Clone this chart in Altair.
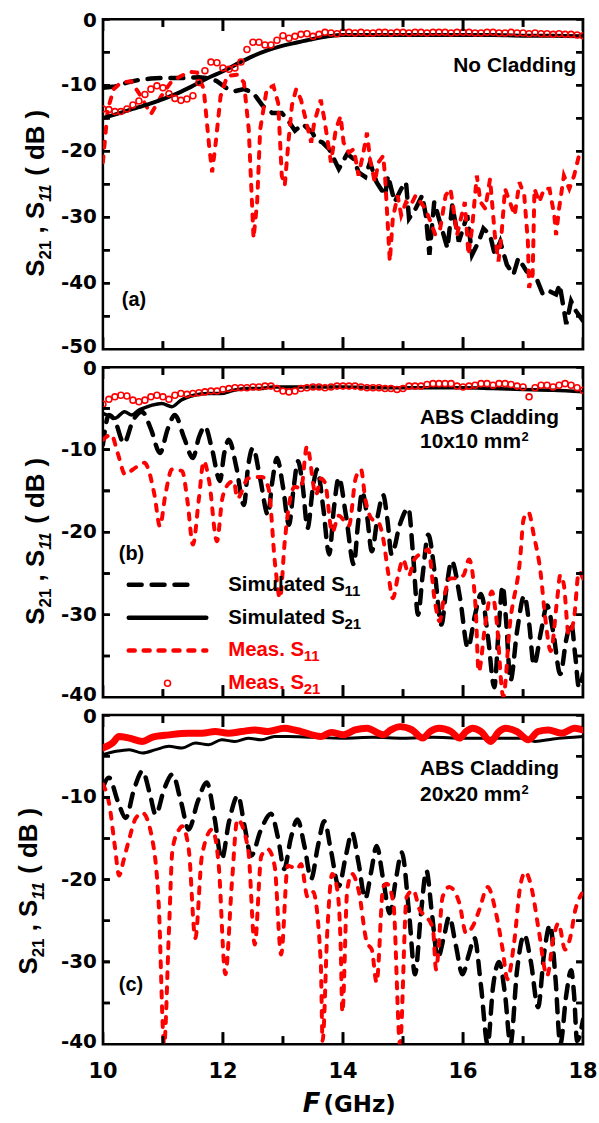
import altair as alt
import pandas as pd

# ---------------- values ----------------
# frequency grid of the circle markers (GHz)
GRID_F = [10.0, 10.1, 10.2, 10.3, 10.4, 10.5, 10.6, 10.7, 10.8, 10.9,
          11.0, 11.1, 11.2, 11.3, 11.4, 11.5, 11.6, 11.7, 11.8, 11.9,
          12.0, 12.1, 12.2, 12.3, 12.4, 12.5, 12.6, 12.7, 12.8, 12.9,
          13.0, 13.1, 13.2, 13.3, 13.4, 13.5, 13.6, 13.7, 13.8, 13.9,
          14.0, 14.1, 14.2, 14.3, 14.4, 14.5, 14.6, 14.7, 14.8, 14.9,
          15.0, 15.1, 15.2, 15.3, 15.4, 15.5, 15.6, 15.7, 15.8, 15.9,
          16.0, 16.1, 16.2, 16.3, 16.4, 16.5, 16.6, 16.7, 16.8, 16.9,
          17.0, 17.1, 17.2, 17.3, 17.4, 17.5, 17.6, 17.7, 17.8, 17.9, 18.0]

# ---- panel (a): no cladding ----
A_S11_SIM_F = [10.0, 10.2, 10.4, 10.6, 10.8, 11.0, 11.2, 11.4, 11.6, 11.8,
               11.9, 12.05, 12.2, 12.35, 12.5, 12.66, 12.82, 12.98, 13.09, 13.2,
               13.33, 13.49, 13.55, 13.66, 13.77, 13.93, 14.07, 14.18, 14.26, 14.37,
               14.45, 14.56, 14.7, 14.75, 14.86, 14.97, 15.05, 15.1, 15.21, 15.32,
               15.38, 15.44, 15.52, 15.63, 15.74, 15.82, 15.93, 16.07, 16.15, 16.26,
               16.34, 16.45, 16.53, 16.62, 16.73, 16.84, 16.92, 17.06, 17.22, 17.33,
               17.44, 17.55, 17.61, 17.72, 17.8, 17.88, 18.0]
A_S11_SIM_DB = [-10.4, -10.2, -9.6, -9.2, -9.0, -8.9, -8.9, -8.9, -8.8, -9.0,
                -9.4, -10.4, -10.9, -10.6, -11.1, -13.1, -14.2, -14.2, -15.4, -16.9,
                -15.9, -17.2, -18.2, -18.7, -19.7, -22.7, -20.4, -21.2, -23.2, -23.9,
                -21.7, -24.7, -26.7, -23.7, -27.7, -25.7, -24.7, -30.2, -28.7, -26.7,
                -29.7, -35.7, -27.7, -31.2, -34.7, -28.2, -33.7, -29.7, -35.7, -33.7,
                -31.7, -32.7, -35.7, -33.7, -37.2, -38.7, -36.2, -38.2, -39.2, -41.7,
                -41.2, -41.7, -40.2, -46.2, -42.7, -44.2, -45.7]
A_S21_SIM_F = [10.0, 10.25, 10.5, 10.75, 11.0, 11.25, 11.5, 11.75, 12.0, 12.25,
               12.5, 12.75, 13.0, 13.25, 13.5, 13.75, 14.0, 14.5, 15.0, 15.5,
               16.0, 16.5, 17.0, 17.5, 18.0]
A_S21_SIM_DB = [-15.0, -14.3, -13.6, -12.9, -12.1, -11.2, -10.1, -8.9, -7.9, -6.7,
                -5.6, -4.7, -4.0, -3.5, -3.0, -2.6, -2.4, -2.4, -2.4, -2.4,
                -2.4, -2.4, -2.5, -2.5, -2.6]
A_S11_MEAS_F = [10.0, 10.05, 10.08, 10.18, 10.3, 10.47, 10.6, 10.8, 10.97, 11.13,
                11.3, 11.46, 11.57, 11.68, 11.77, 11.82, 11.88, 11.96, 12.07, 12.24,
                12.35, 12.43, 12.51, 12.57, 12.62, 12.73, 12.84, 12.92, 12.98, 13.03,
                13.09, 13.15, 13.22, 13.3, 13.4, 13.47, 13.52, 13.63, 13.69, 13.8,
                13.88, 13.96, 14.01, 14.1, 14.18, 14.26, 14.35, 14.4, 14.45, 14.53,
                14.59, 14.67, 14.7, 14.78, 14.83, 14.91, 14.97, 15.05, 15.13, 15.21,
                15.29, 15.37, 15.46, 15.54, 15.62, 15.71, 15.79, 15.84, 15.9, 15.95,
                16.03, 16.09, 16.15, 16.23, 16.29, 16.37, 16.45, 16.53, 16.59, 16.64,
                16.7, 16.78, 16.86, 16.94, 17.02, 17.08, 17.1, 17.16, 17.19, 17.27,
                17.35, 17.44, 17.52, 17.55, 17.6, 17.68, 17.77, 17.85, 17.93, 18.0]
A_S11_MEAS_DB = [-21.7, -16.7, -13.7, -10.6, -9.6, -9.4, -11.2, -14.4, -11.7, -9.6,
                 -8.6, -8.0, -8.1, -10.6, -19.2, -23.2, -18.7, -11.7, -8.6, -8.4,
                 -9.6, -16.7, -33.2, -27.7, -16.7, -10.6, -10.1, -12.7, -23.7, -25.2,
                 -18.7, -13.0, -10.6, -12.2, -16.0, -18.7, -15.7, -12.2, -15.2, -21.7,
                 -16.7, -14.7, -18.7, -20.2, -19.7, -23.7, -19.7, -17.2, -21.2, -24.7,
                 -21.7, -20.7, -23.7, -36.7, -30.2, -26.7, -29.7, -27.7, -28.2, -26.7,
                 -27.7, -28.7, -30.7, -32.7, -31.7, -26.7, -25.7, -28.7, -32.7, -30.7,
                 -27.7, -35.7, -31.7, -23.7, -27.7, -28.7, -24.2, -32.7, -36.7, -32.7,
                 -25.7, -27.7, -29.7, -24.7, -26.7, -33.7, -40.7, -38.7, -25.7, -27.7,
                 -25.7, -25.7, -29.7, -32.7, -28.7, -23.7, -25.7, -23.7, -20.7, -20.7]
A_S21_MEAS_DB = [-13.6, -13.7, -14.0, -14.0, -13.6, -13.0, -12.4, -11.4, -10.6, -10.1,
                 -10.4, -11.3, -12.0, -12.3, -12.1, -11.6, -9.6, -7.8, -6.5, -6.6,
                 -7.4, -7.6, -7.4, -6.5, -4.6, -3.5, -3.5, -3.9, -3.9, -3.2,
                 -2.5, -2.9, -2.6, -2.3, -2.2, -2.6, -2.3, -2.0, -2.1, -2.2,
                 -2.0, -2.0, -2.1, -2.0, -2.1, -2.1, -2.0, -2.0, -2.1, -2.0,
                 -2.0, -2.1, -2.0, -2.0, -2.1, -2.0, -2.0, -2.0, -2.1, -2.0,
                 -2.0, -2.0, -2.1, -2.1, -2.0, -2.0, -2.1, -2.1, -2.0, -2.1,
                 -2.1, -2.2, -2.1, -2.2, -2.2, -2.3, -2.2, -2.3, -2.3, -2.4, -2.5]

# ---- panel (b): ABS cladding 10x10 mm2 ----
B_S11_SIM_F = [10.0, 10.1, 10.2, 10.35, 10.5, 10.65, 10.8, 10.95, 11.08, 11.2,
               11.35, 11.5, 11.6, 11.7, 11.82, 11.95, 12.02, 12.1, 12.22, 12.35,
               12.42, 12.5, 12.62, 12.75, 12.82, 12.9, 13.0, 13.1, 13.18, 13.25,
               13.33, 13.41, 13.5, 13.57, 13.67, 13.77, 13.85, 13.93, 14.05, 14.18,
               14.25, 14.32, 14.4, 14.48, 14.58, 14.67, 14.74, 14.81, 14.95, 15.09,
               15.17, 15.25, 15.33, 15.42, 15.53, 15.64, 15.72, 15.81, 15.95, 16.08,
               16.2, 16.3, 16.42, 16.52, 16.6, 16.66, 16.72, 16.79, 16.9, 17.02,
               17.1, 17.18, 17.3, 17.4, 17.5, 17.62, 17.72, 17.8, 17.87, 17.93, 18.0]
B_S11_SIM_DB = [-9.4, -5.8, -6.5, -9.2, -6.5, -5.4, -7.5, -10.4, -7.5, -5.8,
                -8.5, -11.0, -8.5, -7.2, -10.0, -13.8, -10.5, -8.8, -12.0, -16.7,
                -12.0, -9.8, -13.5, -17.9, -14.0, -11.0, -14.5, -19.1, -14.5, -11.4,
                -14.5, -19.5, -14.5, -12.4, -17.0, -22.7, -17.0, -13.4, -18.0, -23.9,
                -19.0, -15.1, -18.0, -22.3, -18.0, -15.5, -18.5, -22.7, -19.0, -17.1,
                -23.0, -30.0, -25.0, -20.3, -25.0, -31.2, -27.0, -23.5, -28.0, -34.0,
                -30.0, -27.5, -33.0, -38.8, -31.0, -26.5, -31.0, -38.0, -32.0, -27.7,
                -31.0, -36.1, -32.0, -28.9, -32.0, -37.2, -33.0, -31.0, -35.0, -38.8, -37.2]
B_S21_SIM_F = [10.0, 10.1, 10.2, 10.36, 10.48, 10.6, 10.7, 10.82, 10.98, 11.15,
               11.3, 11.52, 11.74, 11.96, 12.18, 12.4, 12.62, 12.84, 13.06, 13.5,
               14.0, 14.5, 15.0, 15.5, 16.0, 16.5, 17.0, 17.5, 18.0]
B_S21_SIM_DB = [-5.6, -5.9, -6.2, -5.4, -5.8, -5.2, -4.9, -4.6, -4.4, -4.8,
                -4.0, -3.4, -3.2, -3.2, -2.8, -2.6, -2.6, -2.4, -2.4, -2.4,
                -2.4, -2.5, -2.5, -2.5, -2.5, -2.6, -2.7, -2.8, -3.0]
B_S11_MEAS_F = [10.0, 10.14, 10.25, 10.37, 10.5, 10.69, 10.86, 10.95, 11.04, 11.15,
                11.32, 11.41, 11.5, 11.6, 11.68, 11.77, 11.9, 11.99, 12.1, 12.18,
                12.24, 12.42, 12.65, 12.76, 12.87, 12.95, 13.03, 13.12, 13.2, 13.3,
                13.4, 13.55, 13.63, 13.7, 13.82, 13.93, 14.1, 14.21, 14.3, 14.37,
                14.48, 14.59, 14.67, 14.75, 14.83, 14.92, 15.0, 15.1, 15.19, 15.33,
                15.42, 15.53, 15.61, 15.68, 15.79, 15.9, 16.01, 16.1, 16.21, 16.26,
                16.37, 16.48, 16.56, 16.67, 16.78, 16.95, 17.01, 17.09, 17.18, 17.29,
                17.37, 17.46, 17.57, 17.62, 17.68, 17.76, 17.85, 17.93, 18.0]
B_S11_MEAS_DB = [-8.8, -8.2, -10.5, -13.0, -12.4, -11.6, -15.5, -19.3, -15.5, -12.4,
                 -12.6, -16.3, -21.5, -15.9, -11.4, -13.8, -21.1, -15.9, -14.1, -13.8,
                 -15.9, -13.5, -13.3, -14.7, -24.0, -28.0, -21.1, -15.9, -14.5, -14.7,
                 -9.6, -15.5, -13.5, -14.0, -20.0, -18.0, -19.2, -13.5, -12.4, -15.9,
                 -18.4, -18.8, -20.8, -24.8, -28.0, -25.2, -23.3, -25.2, -23.3, -22.5,
                 -22.1, -28.4, -30.8, -28.0, -25.6, -25.6, -25.2, -23.3, -29.2, -36.9,
                 -31.2, -27.2, -30.8, -39.9, -31.2, -23.3, -18.4, -17.6, -20.4, -24.8,
                 -30.4, -34.4, -28.0, -25.2, -26.4, -32.4, -30.4, -24.8, -25.6]
B_S21_MEAS_DB = [-4.5, -3.9, -3.6, -3.4, -3.5, -4.0, -4.2, -4.0, -3.6, -3.4,
                 -3.6, -3.9, -3.4, -3.2, -3.3, -3.2, -3.1, -3.0, -2.9, -2.9,
                 -2.7, -2.6, -2.5, -2.5, -2.5, -2.4, -2.4, -2.3, -2.3, -2.6,
                 -2.9, -3.0, -2.9, -2.6, -2.5, -2.4, -2.4, -2.5, -2.4, -2.3,
                 -2.3, -2.3, -2.3, -2.4, -2.5, -2.5, -2.5, -2.6, -2.6, -2.7,
                 -2.6, -2.3, -2.3, -2.3, -2.1, -2.0, -2.0, -2.0, -2.0, -2.3,
                 -2.4, -2.3, -2.2, -2.0, -2.0, -2.2, -2.0, -2.0, -2.1, -2.3,
                 -2.4, -3.6, -2.5, -2.2, -2.2, -2.4, -2.2, -2.0, -2.2, -2.5, -2.8]

# ---- panel (c): ABS cladding 20x20 mm2 ----
C_S11_SIM_F = [10.0, 10.1, 10.25, 10.38, 10.52, 10.66, 10.78, 10.88, 11.02, 11.16,
               11.3, 11.43, 11.58, 11.73, 11.86, 11.98, 12.1, 12.25, 12.36, 12.47,
               12.63, 12.8, 12.92, 13.02, 13.13, 13.24, 13.36, 13.47, 13.58, 13.69,
               13.8, 13.93, 14.05, 14.15, 14.26, 14.37, 14.47, 14.56, 14.67, 14.78,
               14.88, 14.98, 15.1, 15.2, 15.3, 15.39, 15.48, 15.58, 15.68, 15.77,
               15.88, 15.99, 16.1, 16.19, 16.3, 16.41, 16.5, 16.6, 16.7, 16.79,
               16.9, 17.02, 17.13, 17.25, 17.35, 17.45, 17.54, 17.62, 17.72, 17.8,
               17.85, 17.9, 18.0]
C_S11_SIM_DB = [-8.8, -7.6, -10.5, -12.5, -9.0, -6.8, -9.5, -12.1, -9.0, -7.2,
                -10.5, -13.9, -10.5, -8.2, -12.5, -17.5, -13.0, -9.8, -13.5, -17.1,
                -14.0, -12.0, -15.0, -18.7, -15.0, -12.7, -16.0, -19.9, -16.0, -12.9,
                -16.5, -20.8, -17.0, -14.3, -18.0, -22.3, -19.0, -15.9, -20.0, -24.1,
                -20.0, -16.7, -24.0, -31.5, -24.0, -18.9, -24.0, -29.5, -27.0, -24.5,
                -28.0, -31.5, -29.0, -27.1, -33.0, -40.0, -33.0, -30.0, -34.0, -40.0,
                -31.0, -26.7, -30.0, -35.5, -29.0, -25.5, -32.0, -40.0, -34.0, -31.0,
                -34.0, -39.6, -37.0]
C_S21_SIM_F = [10.0, 10.22, 10.44, 10.66, 10.88, 11.1, 11.32, 11.54, 11.76, 11.98,
               12.2, 12.42, 12.64, 12.86, 13.08, 13.5, 14.0, 14.5, 15.0, 15.5,
               16.0, 16.5, 17.0, 17.2, 17.5, 18.0]
C_S21_SIM_DB = [-4.8, -4.4, -4.2, -4.6, -4.2, -3.8, -4.0, -3.4, -3.6, -3.0,
                -3.2, -2.8, -3.0, -2.6, -2.6, -2.7, -2.8, -2.7, -2.8, -2.7,
                -2.8, -2.8, -2.8, -3.2, -2.9, -2.6]
C_S11_MEAS_F = [10.0, 10.11, 10.2, 10.27, 10.35, 10.44, 10.55, 10.66, 10.82, 10.93,
                11.02, 11.1, 11.16, 11.27, 11.32, 11.43, 11.54, 11.65, 11.82, 11.93,
                12.04, 12.15, 12.24, 12.42, 12.53, 12.64, 12.75, 12.86, 12.97, 13.08,
                13.24, 13.3, 13.41, 13.5, 13.63, 13.66, 13.74, 13.82, 13.9, 13.96,
                13.99, 14.07, 14.15, 14.26, 14.4, 14.48, 14.56, 14.67, 14.73, 14.84,
                14.95, 15.06, 15.17, 15.28, 15.39, 15.5, 15.55, 15.66, 15.77, 15.94,
                16.05, 16.16, 16.27, 16.41, 16.55, 16.66, 16.74, 16.85, 16.96, 17.04,
                17.15, 17.26, 17.4, 17.51, 17.59, 17.7, 17.79, 17.87, 17.98]
C_S11_MEAS_DB = [-8.4, -11.0, -16.0, -19.5, -17.5, -15.0, -12.5, -11.9, -15.0, -23.0,
                 -40.0, -26.3, -16.3, -13.9, -13.5, -16.3, -27.1, -17.1, -13.9, -18.3,
                 -31.5, -20.3, -12.7, -16.3, -27.9, -17.1, -16.3, -18.3, -29.1, -18.3,
                 -18.7, -18.1, -22.1, -21.5, -30.1, -39.6, -26.1, -19.3, -21.0, -27.7,
                 -36.1, -21.3, -19.3, -21.3, -27.7, -28.5, -32.5, -20.9, -20.5, -22.9,
                 -40.0, -22.1, -21.3, -23.7, -24.5, -26.1, -30.9, -22.1, -20.9, -22.9,
                 -26.5, -25.7, -23.7, -20.9, -24.1, -28.5, -32.1, -27.7, -20.5, -19.1,
                 -21.3, -26.1, -31.7, -26.9, -25.3, -28.5, -26.9, -23.7, -21.7]
C_S21_MEAS_F = [10.0, 10.16, 10.27, 10.44, 10.66, 10.82, 11.1, 11.43, 11.65, 11.87,
                12.09, 12.31, 12.53, 12.75, 13.02, 13.19, 13.3, 13.63, 13.8, 14.01,
                14.2, 14.4, 14.67, 14.8, 14.95, 15.15, 15.33, 15.45, 15.6, 15.8,
                15.94, 16.05, 16.16, 16.3, 16.46, 16.6, 16.71, 16.9, 17.09, 17.25,
                17.42, 17.64, 17.86, 18.0]
C_S21_MEAS_DB = [-4.0, -3.4, -2.6, -2.8, -3.2, -2.7, -2.4, -2.2, -2.2, -2.0,
                 -2.2, -2.0, -1.8, -2.0, -1.6, -1.8, -2.0, -2.6, -2.1, -2.4,
                 -1.8, -1.6, -2.4, -1.8, -1.4, -1.8, -2.8, -2.0, -1.6, -2.0,
                 -2.8, -2.0, -1.6, -2.0, -3.2, -2.0, -1.6, -2.0, -3.0, -2.0,
                 -1.8, -2.2, -1.6, -1.8]

# tick values and tick labels
X_MAJOR = [10, 12, 14, 16, 18]
X_MINOR = [11, 13, 15, 17]
X_LABELS = ["10", "12", "14", "16", "18"]
Y_TICKS_A = [-50, -45, -40, -35, -30, -25, -20, -15, -10, -5, 0]
Y_TICKS_BC = [-40, -35, -30, -25, -20, -15, -10, -5, 0]
Y_LABEL_VALUES_A = [-50, -40, -30, -20, -10, 0]
Y_LABELS_A = ["-50", "-40", "-30", "-20", "-10", "0"]
Y_LABEL_VALUES_BC = [-40, -30, -20, -10, 0]
Y_LABELS_BC = ["-40", "-30", "-20", "-10", "0"]

# ---------------- styling ----------------
BLACK = "#000000"
RED = "#ff0000"
PW = 483
ONE = pd.DataFrame({"k": [0]})
Y_TICK_PX, X_MAJOR_PX, X_MINOR_PX, TICK_W = 7, 12, 8, 2.6

ARIAL_B = {"S": 0.667, "1": 0.556, "2": 0.556, ",": 0.278, " ": 0.278,
           "(": 0.333, ")": 0.333, "d": 0.611, "B": 0.722}


def adv(s, fs):
    return sum(ARIAL_B[c] for c in s) * fs


def df(f, v):
    return pd.DataFrame({"f": f, "db": v})


def txt(s, x, y, size, font="Liberation Sans", style="normal", color=BLACK,
        align="left", angle=0):
    return alt.Chart(ONE).mark_text(
        text=s, font=font, fontSize=size, fontWeight="bold", fontStyle=style,
        color=color, align=align, baseline="alphabetic", angle=angle
    ).encode(x=alt.value(x), y=alt.value(y))


def ytitle(xb, ystart):
    frags = [("S", 26, False, False), ("21", 17, True, False),
             (" , S", 26, False, False), ("11", 17, True, True),
             (" ( dB )", 26, False, False)]
    out = []
    y = ystart
    for s, fs, sub, it in frags:
        lead = len(s) - len(s.lstrip(" "))
        pos = y - adv(s[:lead], fs)
        out.append(txt(s.strip(" "), xb + (7 if sub else 0), pos, fs,
                       style="italic" if it else "normal", angle=270))
        y -= adv(s, fs)
    return out


def panel(ymin, height, yticks, ylab, s11sim, s21sim, s11meas, s21meas, thick_s21,
          xlabels, interp, s21w, extras):
    xs = alt.Scale(domain=[10, 18], nice=False, zero=False)
    ys = alt.Scale(domain=[ymin, 0], nice=False, zero=False)

    def X(field="f"):
        return alt.X(f"{field}:Q", scale=xs, axis=None)

    def Y(field="db"):
        return alt.Y(f"{field}:Q", scale=ys, axis=None)

    l_s11sim = alt.Chart(df(*s11sim)).mark_line(
        color=BLACK, strokeWidth=4.5, strokeDash=[13, 10], strokeCap="round",
        interpolate=interp, clip=True).encode(x=X(), y=Y())
    l_s11meas = alt.Chart(df(*s11meas)).mark_line(
        color=RED, strokeWidth=4, strokeDash=[6, 9], strokeCap="round",
        interpolate=interp, clip=True).encode(x=X(), y=Y())
    l_s21sim = alt.Chart(df(*s21sim)).mark_line(
        color=BLACK, strokeWidth=s21w, interpolate="monotone", clip=True
    ).encode(x=X(), y=Y())
    if thick_s21:
        l_s21meas = alt.Chart(df(*s21meas)).mark_line(
            color=RED, strokeWidth=7, strokeCap="round", interpolate="monotone", clip=True)
    else:
        l_s21meas = alt.Chart(df(*s21meas)).mark_point(
            shape="circle", filled=False, color=RED, size=36, strokeWidth=1.6,
            opacity=1, clip=True)
    l_s21meas = l_s21meas.encode(x=X(), y=Y())

    deco = []
    gx = 8.0 / PW                      # GHz per pixel
    gy = (0 - ymin) / float(height)    # dB per pixel
    hw_x = TICK_W / 2 * gx             # half tick width, in GHz
    hw_y = TICK_W / 2 * gy             # half tick width, in dB

    # --- inward tick marks as thin filled bars on the frame (from the tick lists)
    bars = []
    for v in yticks:
        bars.append((10.0, 10.0 + Y_TICK_PX * gx, v - hw_y, v + hw_y))
        bars.append((18.0 - Y_TICK_PX * gx, 18.0, v - hw_y, v + hw_y))
    for vals, ln in [(X_MAJOR, X_MAJOR_PX), (X_MINOR, X_MINOR_PX)]:
        for v in vals:
            bars.append((v - hw_x, v + hw_x, float(ymin), ymin + ln * gy))
            bars.append((v - hw_x, v + hw_x, 0.0 - ln * gy, 0.0))
    bar_df = pd.DataFrame(bars, columns=["x1", "x2", "y1", "y2"])
    deco.append(alt.Chart(bar_df).mark_rect(color=BLACK, opacity=1, clip=True).encode(
        x=X("x1"), x2="x2:Q", y=Y("y1"), y2="y2:Q"))

    # --- the same ticks as two-point line segments (clipped to the panel)
    rows = []
    n = 0
    for v in yticks:
        for xa, xb in [(10.0, 10.0 + Y_TICK_PX * gx), (18.0 - Y_TICK_PX * gx, 18.0)]:
            rows += [("t%d" % n, xa, float(v)), ("t%d" % n, xb, float(v))]
            n += 1
    for vals, ln in [(X_MAJOR, X_MAJOR_PX), (X_MINOR, X_MINOR_PX)]:
        for v in vals:
            for ya, yb in [(float(ymin), ymin + ln * gy), (0.0 - ln * gy, 0.0)]:
                rows += [("t%d" % n, float(v), ya), ("t%d" % n, float(v), yb)]
                n += 1
    tick_df = pd.DataFrame(rows, columns=["tid", "tx", "ty"])
    deco.append(alt.Chart(tick_df).mark_line(
        color=BLACK, strokeWidth=TICK_W, interpolate="linear", clip=True
    ).encode(x=X("tx"), y=Y("ty"), detail="tid:N"))

    # --- tick labels (the end labels are nudged a little away from the panel gap)
    for v, lab in zip(*ylab):
        dy = 2 if v == 0 else (-2 if v == ymin else 0)
        deco.append(alt.Chart(pd.DataFrame({"v": [v], "lab": [lab]})).mark_text(
            align="right", baseline="middle", font="DejaVu Sans", fontWeight="bold",
            fontSize=20, color=BLACK, dy=dy).encode(y=Y("v"), x=alt.value(-6),
                                                    text="lab:N"))
    if xlabels:
        deco.append(alt.Chart(pd.DataFrame({"v": X_MAJOR, "lab": X_LABELS})).mark_text(
            align="center", baseline="alphabetic", font="DejaVu Sans", fontWeight="bold",
            fontSize=21, color=BLACK).encode(x=X("v"), y=alt.value(height + 34),
                                             text="lab:N"))

    return alt.layer(l_s11sim, l_s11meas, l_s21sim, l_s21meas, *deco,
                     *extras).properties(width=PW, height=height)


# ---------------- panel decorations ----------------
extras_a = [txt("No Cladding", 476, 53, 21, align="right"),
            txt("(a)", 19, 289, 20)] + ytitle(-59, 259)

legend_b = [
    alt.Chart(ONE).mark_rule(color=BLACK, strokeWidth=4.5, strokeDash=[13, 10],
                             strokeCap="round").encode(
        x=alt.value(26), x2=alt.value(94), y=alt.value(219)),
    alt.Chart(ONE).mark_rule(color=BLACK, strokeWidth=4.5, strokeCap="round").encode(
        x=alt.value(26), x2=alt.value(104), y=alt.value(252)),
    alt.Chart(ONE).mark_rule(color=RED, strokeWidth=4.5, strokeDash=[6, 9],
                             strokeCap="round").encode(
        x=alt.value(26), x2=alt.value(104), y=alt.value(285)),
    alt.Chart(ONE).mark_point(shape="circle", filled=False, color=RED, size=36,
                              strokeWidth=1.6, opacity=1).encode(
        x=alt.value(65), y=alt.value(318)),
    txt("Simulated S", 126, 225.5, 20.5), txt("11", 243, 230.5, 15),
    txt("Simulated S", 126, 258, 20.5), txt("21", 243, 263, 15),
    txt("Meas. S", 126, 290.7, 20.5, color=RED), txt("11", 202, 295.7, 15, color=RED),
    txt("Meas. S", 126, 324, 20.5, color=RED), txt("21", 202, 329, 15, color=RED),
]
extras_b = [txt("ABS Cladding", 319, 57, 21), txt("10x10 mm", 319, 81, 21),
            txt("2", 421, 74, 13), txt("(b)", 16, 194, 20)] + legend_b + ytitle(-59, 259)

extras_c = [txt("ABS Cladding", 319, 60, 21), txt("20x20 mm", 319, 86, 21),
            txt("2", 421, 79, 13), txt("(c)", 16, 278, 20),
            txt("F", 201, 399, 26, font="DejaVu Sans", style="italic"),
            txt("(GHz)", 222, 399, 23, font="DejaVu Sans")] + ytitle(-66, 261)

pa = panel(-50, 332, Y_TICKS_A, (Y_LABEL_VALUES_A, Y_LABELS_A),
           (A_S11_SIM_F, A_S11_SIM_DB), (A_S21_SIM_F, A_S21_SIM_DB),
           (A_S11_MEAS_F, A_S11_MEAS_DB), (GRID_F, A_S21_MEAS_DB), False, False,
           "linear", 4, extras_a)
pb = panel(-40, 332, Y_TICKS_BC, (Y_LABEL_VALUES_BC, Y_LABELS_BC),
           (B_S11_SIM_F, B_S11_SIM_DB), (B_S21_SIM_F, B_S21_SIM_DB),
           (B_S11_MEAS_F, B_S11_MEAS_DB), (GRID_F, B_S21_MEAS_DB), False, False,
           "monotone", 3.5, extras_b)
pc = panel(-40, 331, Y_TICKS_BC, (Y_LABEL_VALUES_BC, Y_LABELS_BC),
           (C_S11_SIM_F, C_S11_SIM_DB), (C_S21_SIM_F, C_S21_SIM_DB),
           (C_S11_MEAS_F, C_S11_MEAS_DB), (C_S21_MEAS_F, C_S21_MEAS_DB), True, True,
           "monotone", 3, extras_c)

chart = alt.vconcat(pa, pb, pc, spacing=18, bounds="flush").properties(
    padding={"left": 14.5, "top": 6, "right": 0, "bottom": 0}
).configure(font="Liberation Sans").configure_view(stroke=BLACK, strokeWidth=2.5)

chart.save("out.html", embed_options={"renderer": "svg", "actions": False})
